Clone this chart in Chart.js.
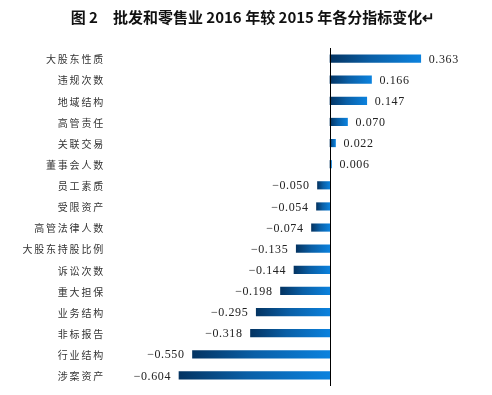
<!DOCTYPE html>
<html>
<head>
<meta charset="utf-8">
<script src="https://cdn.jsdelivr.net/npm/chart.js@4.4.1/dist/chart.umd.min.js"></script>
<style>
    html, body { margin: 0; padding: 0; background: #fff; }
    #wrap { width: 492px; height: 395px; }
</style>
</head>
<body>
<div id="wrap"><canvas id="myChart" width="492" height="395"></canvas></div>
<script>
const titleText = '图 2　批发和零售业 2016 年较 2015 年各分指标变化↵';

const categories = [
    '大股东性质', '违规次数', '地域结构', '高管责任', '关联交易', '董事会人数',
    '员工素质', '受限资产', '高管法律人数', '大股东持股比例', '诉讼次数',
    '重大担保', '业务结构', '非标报告', '行业结构', '涉案资产'
];

const changes = [
    0.363, 0.166, 0.147, 0.070, 0.022, 0.006,
    -0.050, -0.054, -0.074, -0.135, -0.144,
    -0.198, -0.295, -0.318, -0.550, -0.604
];

// bar fill: dark navy on the left end, bright blue on the right end
function barGradient(context) {
    const chart = context.chart;
    const xScale = chart.scales.x;
    if (!chart.chartArea || !xScale) return '#0a6cc0';
    const v = changes[context.dataIndex];
    const x1 = xScale.getPixelForValue(Math.min(0, v));
    const x2 = xScale.getPixelForValue(Math.max(0, v));
    if (!isFinite(x1) || !isFinite(x2) || x2 - x1 < 1) return '#0a4a82';
    const g = chart.ctx.createLinearGradient(x1, 0, x2, 0);
    g.addColorStop(0, '#043462');
    g.addColorStop(0.45, '#0a5fa6');
    g.addColorStop(1, '#0b82de');
    return g;
}

const fmt = v => (v < 0 ? '−' : '') + Math.abs(v).toFixed(3);

const extras = {
    id: 'extras',
    afterDatasetsDraw(chart) {
        const { ctx, chartArea } = chart;
        const x = chart.scales.x;
        const y = chart.scales.y;
        const zero = Math.round(x.getPixelForValue(0)) + 0.5;

        ctx.save();
        // zero axis
        ctx.strokeStyle = '#000';
        ctx.lineWidth = 1;
        ctx.beginPath();
        ctx.moveTo(zero, chartArea.top);
        ctx.lineTo(zero, chartArea.bottom);
        ctx.stroke();

        // value labels
        ctx.fillStyle = '#222';
        ctx.font = '12px "Liberation Serif", serif';
        ctx.letterSpacing = '0.6px';
        ctx.textBaseline = 'middle';
        changes.forEach((v, i) => {
            const py = y.getPixelForValue(i);
            const px = x.getPixelForValue(v);
            if (v >= 0) {
                ctx.textAlign = 'left';
                ctx.fillText(fmt(v), px + 8, py + 1);
            } else {
                ctx.textAlign = 'right';
                ctx.fillText(fmt(v), px - 8, py + 1);
            }
        });

        // category labels
        ctx.fillStyle = '#333';
        ctx.font = '10px "Noto Sans CJK SC", sans-serif';
        ctx.letterSpacing = '1.8px';
        ctx.textAlign = 'right';
        categories.forEach((c, i) => {
            const py = y.getPixelForValue(i);
            ctx.fillText(c, 105, py + 1);
        });
        ctx.restore();
    }
};

const ctx = document.getElementById('myChart').getContext('2d');
new Chart(ctx, {
    type: 'bar',
    data: {
        labels: categories,
        datasets: [{
            data: changes,
            backgroundColor: barGradient,
            borderWidth: 0,
            barThickness: 7.5
        }]
    },
    options: {
        indexAxis: 'y',
        responsive: false,
        animation: false,
        devicePixelRatio: 1,
        layout: {
            padding: { left: 26, right: 12, top: 0, bottom: 9 }
        },
        scales: {
            x: {
                display: false,
                min: -0.88,
                max: 0.6
            },
            y: {
                grid: { display: false, drawTicks: false },
                border: { display: false },
                ticks: { display: false },
                afterFit(scale) {
                    scale.width = 84;
                }
            }
        },
        plugins: {
            legend: { display: false },
            tooltip: { enabled: false },
            title: {
                display: true,
                text: titleText,
                color: '#111',
                font: { family: '"Noto Sans CJK SC", sans-serif', size: 15, weight: 'bold' },
                padding: { top: 8, bottom: 22 }
            }
        }
    },
    plugins: [extras]
});
</script>
</body>
</html>
